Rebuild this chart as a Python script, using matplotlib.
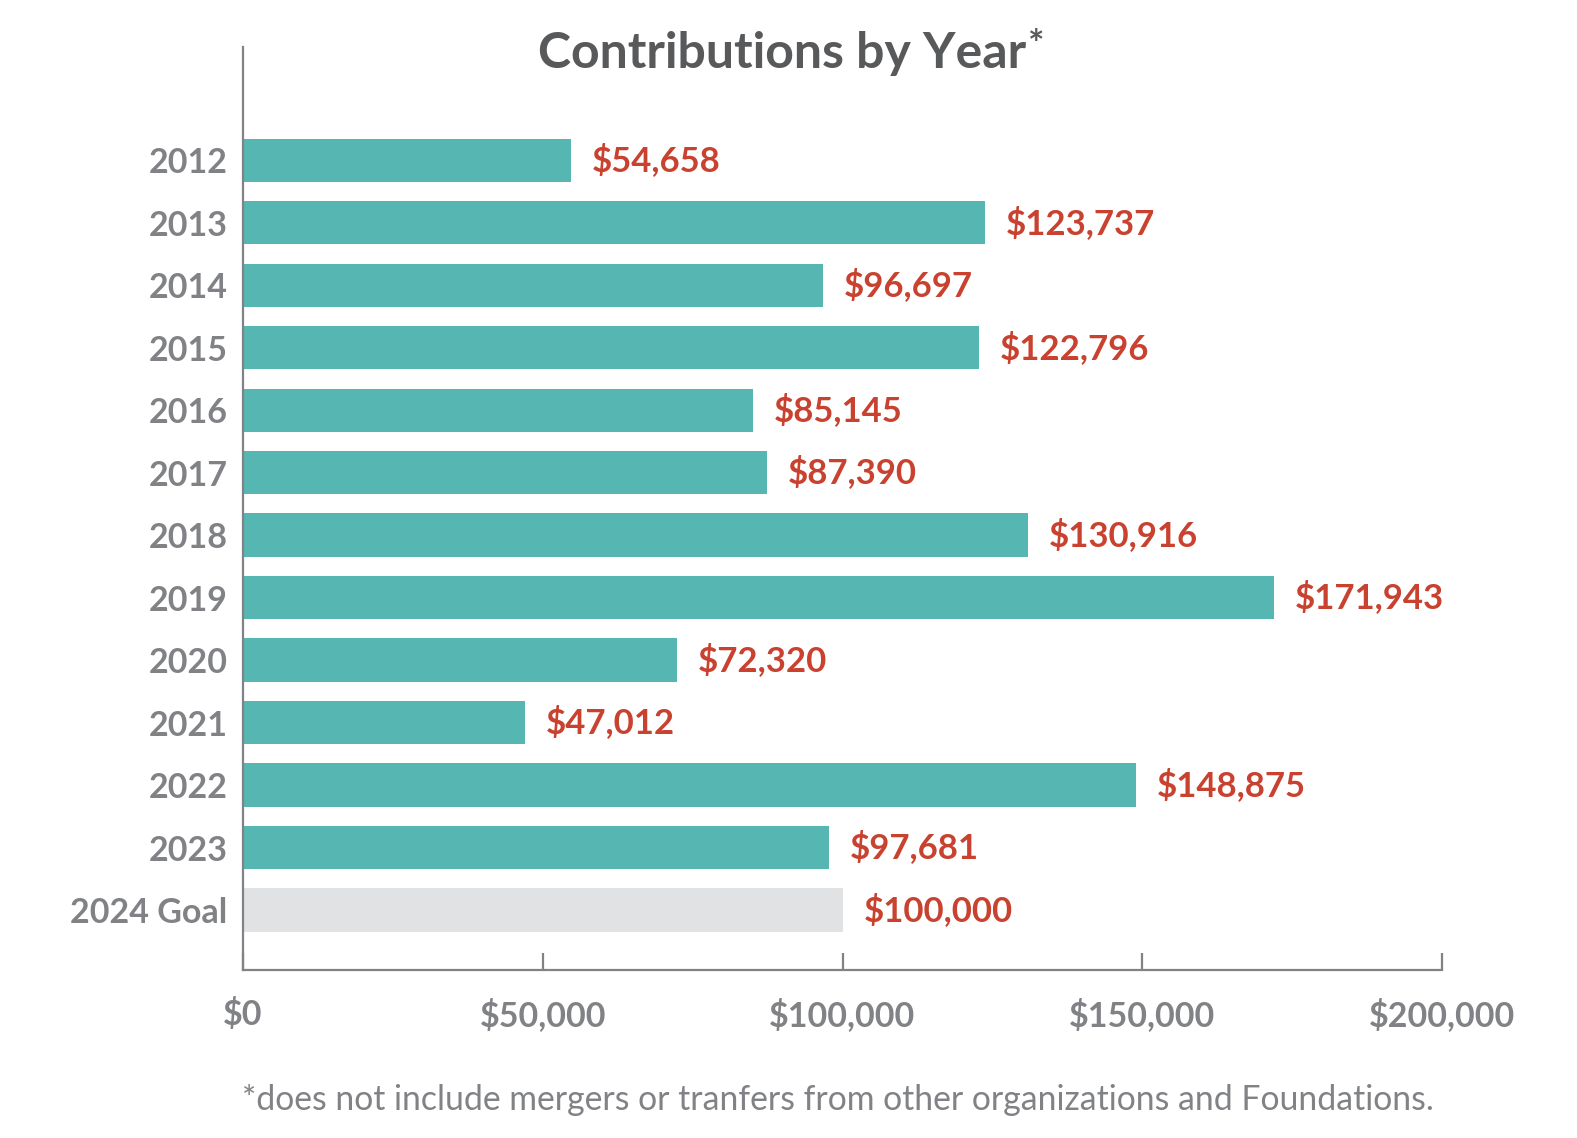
import matplotlib
matplotlib.use("Agg")
import matplotlib.pyplot as plt
from matplotlib.ticker import FuncFormatter

categories = ["2012", "2013", "2014", "2015", "2016", "2017", "2018", "2019",
              "2020", "2021", "2022", "2023", "2024 Goal"]
values = [54658, 123737, 96697, 122796, 85145, 87390, 130916, 171943,
          72320, 47012, 148875, 97681, 100000]
value_labels = ["$54,658", "$123,737", "$96,697", "$122,796", "$85,145", "$87,390",
                "$130,916", "$171,943", "$72,320", "$47,012", "$148,875", "$97,681",
                "$100,000"]
x_ticks = [0, 50000, 100000, 150000, 200000]

TEAL = "#56B6B1"
GOAL = "#E1E2E4"
RED = "#C9412F"
GREY = "#808285"
TITLE = "#58595B"

plt.rcParams['font.family'] = ['Lato', 'DejaVu Sans']

fig = plt.figure(figsize=(15.77, 11.38), dpi=100)
ax = fig.add_axes([243/1577, 1-970/1138, (1442-243)/1577, (970-47)/1138])

colors = [TEAL]*(len(categories)-1) + [GOAL]
ypos = list(range(len(categories)))
ax.barh(ypos, values, height=0.69, color=colors, zorder=2)

for y, v, lab in zip(ypos, values, value_labels):
    ax.annotate(lab, xy=(v, y), xytext=(15, 0), textcoords="offset points",
                ha="left", va="center", color=RED, fontsize=25, fontweight="bold")

ax.set_ylim(12.96, -1.81)
ax.set_xlim(0, 200000)
ax.set_yticks(ypos)
ax.set_yticklabels(categories)
ax.set_xticks(x_ticks)
ax.xaxis.set_major_formatter(FuncFormatter(lambda v, p: "${:,.0f}".format(v)))

for s in ["top", "right"]:
    ax.spines[s].set_visible(False)
for s in ["left", "bottom"]:
    ax.spines[s].set_color(GREY)
    ax.spines[s].set_linewidth(1.6)

ax.tick_params(axis="y", length=0, pad=11, labelsize=24.5, labelcolor=GREY)
ax.tick_params(axis="x", direction="in", length=12, width=1.6, color=GREY,
               pad=20, labelsize=24.5, labelcolor=GREY)
for t in ax.get_yticklabels() + ax.get_xticklabels():
    t.set_fontweight("bold")

title = fig.text(538/1577, 1-53/1138, "Contributions by Year", ha="left", va="center",
                 fontsize=36, fontweight="bold", color=TITLE)
ax.annotate("*", xy=(1, 1), xycoords=title, xytext=(1, 2), textcoords="offset points",
            ha="left", va="top", fontsize=28, fontweight="bold", color=TITLE,
            annotation_clip=False)
fig.text(838/1577, 1-1100/1138,
         "*does not include mergers or tranfers from other organizations and Foundations.",
         ha="center", va="center", fontsize=24.3, color=GREY)

fig.savefig("out.png", dpi=100)
